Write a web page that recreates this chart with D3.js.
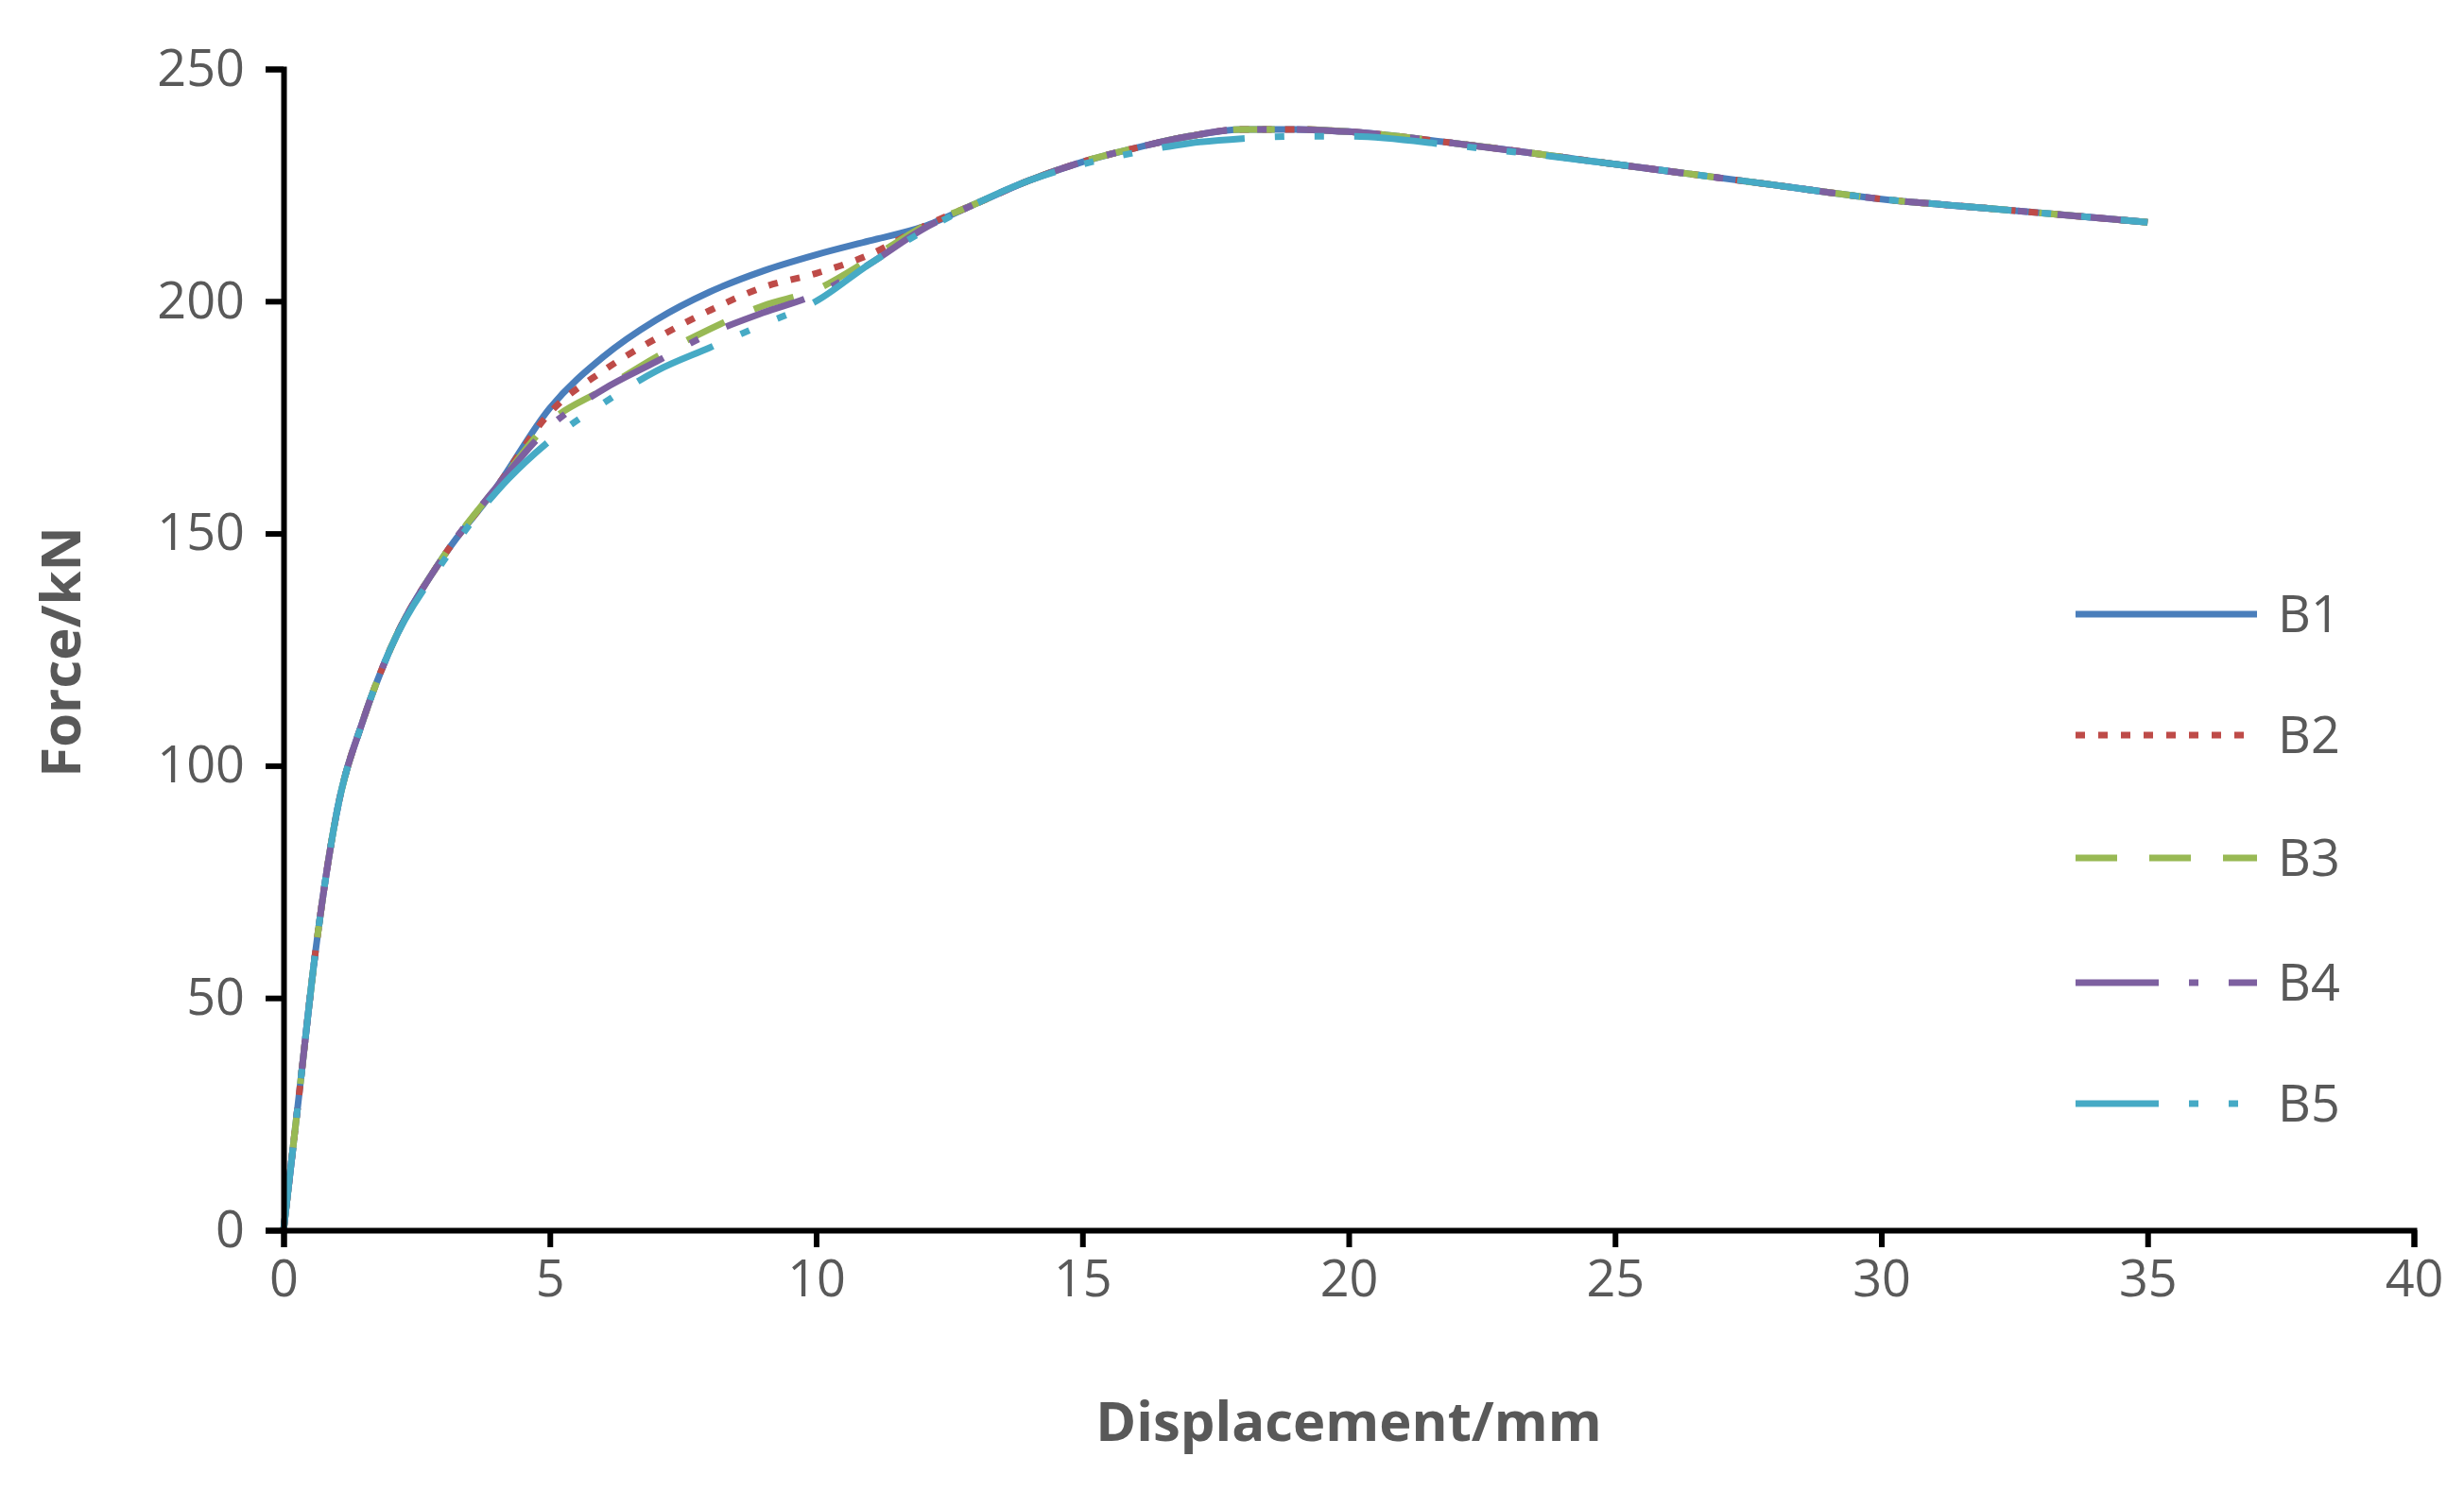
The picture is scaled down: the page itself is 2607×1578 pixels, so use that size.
<!DOCTYPE html>
<html><head><meta charset="utf-8">
<script src="https://cdn.jsdelivr.net/npm/d3@7/dist/d3.min.js"></script>
<style>body{margin:0;background:#fff}</style></head>
<body><svg id="c" width="2607" height="1578"></svg>
<script>
const seriesNames = ["B1","B2","B3","B4","B5"];
const colors = ["#4a7ebb","#be4b48","#98b954","#7d60a0","#46aac5"];
const dashes = ["none","10,14","44,34","88,32,10,32","88,32,10,32,10,32"];
const xTicks = [0,5,10,15,20,25,30,35,40];
const yTicks = [0,50,100,150,200,250];
const common = [[0,0],[0.3,30],[0.6,60],[1,90],[1.5,110],[2,125],[3,145],[4,160]];
const tail = [[13,221],[14,226],[15,230],[16,233],[17,235.5],[18,237],[19,237],[20,236.5],[22,234],[25,229.5],[28,225],[30,222],[32,220],[35,217]];
const tail5 = [[13,221],[14,226],[15,229.5],[16,232],[17,234],[18,235],[19,235.5],[20,235.5],[22,233.5],[25,229.5],[28,225],[30,222],[32,220],[35,217]];
const B1 = common.concat([[5,177],[6,188],[7,196],[8,202],[9,206.5],[10,210],[11,213],[12,216]], tail);
const B2 = common.concat([[5,176],[6,185],[7,192],[8,198],[9,203],[10,206],[11,210],[12,216]], tail);
const B3 = common.concat([[5,174],[6,181],[7,188],[8,194],[9,199],[10,202.5],[11,209],[12,216]], tail);
const B4 = common.concat([[5,173],[6,181],[7,187],[8,193],[9,197.5],[10,201.5],[11,208],[12,215.5]], tail);
const B5 = [[0,0],[0.3,30],[0.6,60],[1,90],[1.5,110],[2,125],[3,144],[4,159],[5,170],[6,178],[7,185],[8,190],[9,195],[10,200],[11,208],[12,215]].concat(tail5);
const data = [B1,B2,B3,B4,B5];

const svg = d3.select("#c");
const x = d3.scaleLinear().domain([0,40]).range([300,2554]);
const y = d3.scaleLinear().domain([0,250]).range([1302,73]);
const font = "'Open Sans', 'Noto Sans', sans-serif";

const line = d3.line().x(d=>x(d[0])).y(d=>y(d[1])).curve(d3.curveMonotoneX);
data.forEach((s,i)=>{
  svg.append("path").attr("d",line(s)).attr("fill","none")
    .attr("stroke",colors[i]).attr("stroke-width",7)
    .attr("stroke-dasharray",dashes[i]);
});

const xa = svg.append("g").attr("transform","translate(0,1302)")
  .call(d3.axisBottom(x).tickValues(xTicks).tickSize(18).tickPadding(14));
const ya = svg.append("g").attr("transform","translate(300,0)")
  .call(d3.axisLeft(y).tickValues(yTicks).tickSize(19).tickPadding(22));
[xa,ya].forEach(a=>{
  a.select(".domain").attr("stroke","#000").attr("stroke-width",6);
  a.selectAll(".tick line").attr("stroke","#000").attr("stroke-width",6);
  a.selectAll("text").attr("font-family",font).attr("font-size",54).attr("fill","#595959");
});

svg.append("text").attr("x",1427).attr("y",1525).attr("text-anchor","middle")
  .attr("font-family",font).attr("font-size",58).attr("font-weight","bold").attr("fill","#595959")
  .text("Displacement/mm");
svg.append("text").attr("transform","translate(85,690) rotate(-90)").attr("text-anchor","middle")
  .attr("font-family",font).attr("font-size",58).attr("font-weight","bold").attr("fill","#595959")
  .text("Force/kN");

const ly = [650,778,908,1040,1168];
seriesNames.forEach((n,i)=>{
  svg.append("line").attr("x1",2196).attr("x2",2388).attr("y1",ly[i]).attr("y2",ly[i])
    .attr("stroke",colors[i]).attr("stroke-width",7).attr("stroke-dasharray",dashes[i]);
  svg.append("text").attr("x",2410).attr("y",ly[i]).attr("dy","0.36em")
    .attr("font-family",font).attr("font-size",54).attr("fill","#595959").text(n);
});
</script></body></html>
